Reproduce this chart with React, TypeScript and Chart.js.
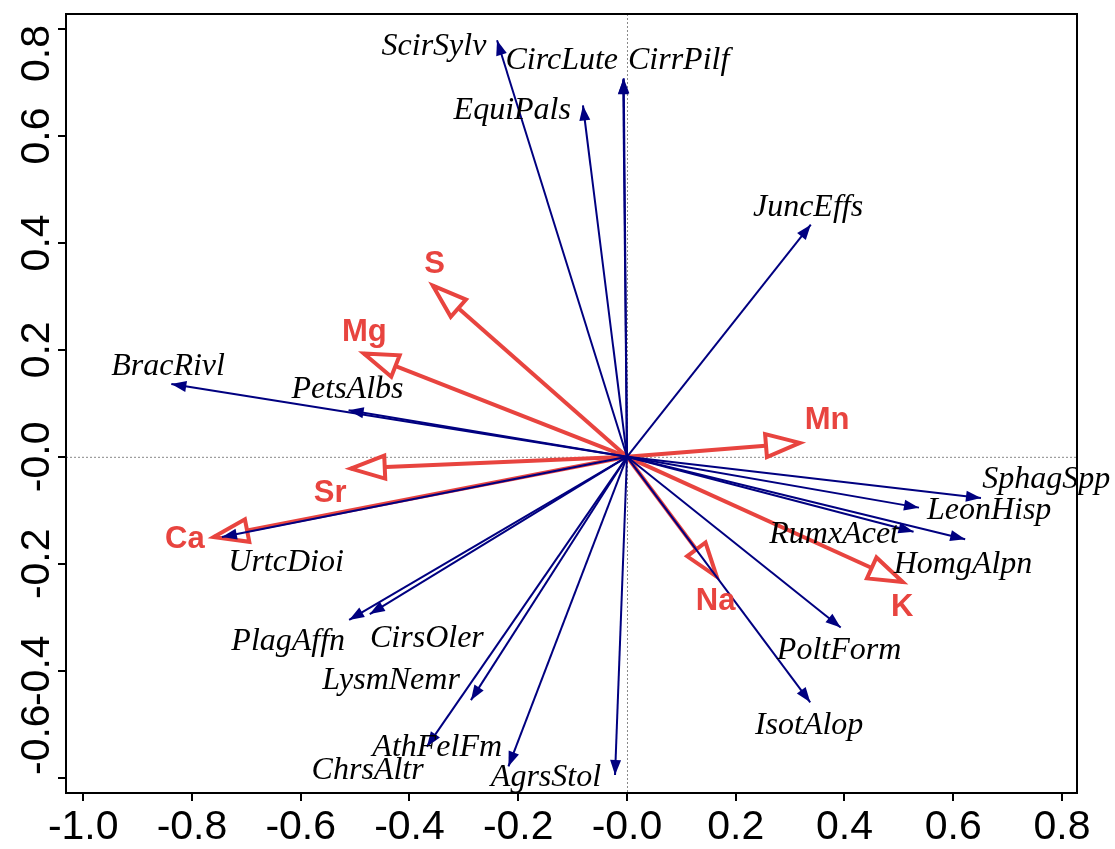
import React, { useEffect, useRef } from "react";
import { Chart, registerables } from "chart.js";

Chart.register(...registerables);

// Species scores (navy arrows)
const speciesNames = [
  "ScirSylv", "CircLute", "CirrPilf", "EquiPals", "JuncEffs", "BracRivl", "PetsAlbs",
  "SphagSpp", "LeonHisp", "RumxAcet", "HomgAlpn", "PoltForm", "IsotAlop", "UrtcDioi",
  "PlagAffn", "CirsOler", "LysmNemr", "ChrsAltr", "AthFelFm", "AgrsStol",
];
const speciesX = [
  -0.239, -0.007, -0.006, -0.081, 0.338, -0.838, -0.512,
  0.651, 0.537, 0.527, 0.622, 0.393, 0.337, -0.745,
  -0.511, -0.473, -0.287, -0.368, -0.218, -0.022,
];
const speciesY = [
  0.779, 0.706, 0.708, 0.657, 0.434, 0.136, 0.087,
  -0.077, -0.095, -0.14, -0.154, -0.319, -0.459, -0.15,
  -0.305, -0.294, -0.455, -0.542, -0.579, -0.595,
];
// Label anchors (centre of the text) in data units
const speciesLabelX = [
  -0.355, -0.12, 0.095, -0.211, 0.333, -0.844, -0.514,
  0.771, 0.666, 0.381, 0.618, 0.39, 0.335, -0.627,
  -0.623, -0.368, -0.434, -0.477, -0.349, -0.149,
];
const speciesLabelY = [
  0.771, 0.745, 0.745, 0.652, 0.47, 0.173, 0.13,
  -0.038, -0.096, -0.141, -0.197, -0.358, -0.498, -0.193,
  -0.342, -0.336, -0.414, -0.582, -0.539, -0.595,
];

// Environmental vectors (red arrows)
const envNames = ["S", "Mg", "Mn", "Sr", "Ca", "Na", "K"];
const envX = [-0.357, -0.484, 0.318, -0.508, -0.76, 0.165, 0.507];
const envY = [0.32, 0.193, 0.026, -0.022, -0.15, -0.224, -0.234];
const envLabelX = [-0.354, -0.483, 0.368, -0.546, -0.813, 0.163, 0.506];
const envLabelY = [0.364, 0.237, 0.072, -0.064, -0.15, -0.266, -0.276];

const xTickValues = [-1.0, -0.8, -0.6, -0.4, -0.2, 0, 0.2, 0.4, 0.6, 0.8];
const xTickLabels = ["-1.0", "-0.8", "-0.6", "-0.4", "-0.2", "-0.0", "0.2", "0.4", "0.6", "0.8"];
const yTickValues = [-0.6, -0.4, -0.2, 0, 0.2, 0.4, 0.6, 0.8];
const yTickLabels = ["-0.6", "-0.4", "-0.2", "-0.0", "0.2", "0.4", "0.6", "0.8"];

const X_MIN = -1.0317;
const X_MAX = 0.8276;
const Y_MIN = -0.6286;
const Y_MAX = 0.828;

const NAVY = "#000080";
const RED = "#E8443F";
const SANS = "'Liberation Sans', Arial, sans-serif";
const SERIF = "'Liberation Serif', 'Times New Roman', serif";

function labelFor(values: number[], labels: string[], v: number) {
  const i = values.findIndex((t) => Math.abs(t - v) < 1e-9);
  return i >= 0 ? labels[i] : "";
}

const biplotPlugin = {
  id: "biplot",
  beforeDatasetsDraw(chart: any) {
    const { ctx, chartArea: a, scales } = chart;
    const x0 = scales.x.getPixelForValue(0);
    const y0 = scales.y.getPixelForValue(0);
    ctx.save();
    ctx.strokeStyle = "#888";
    ctx.lineWidth = 1;
    ctx.setLineDash([2, 2]);
    ctx.beginPath();
    ctx.moveTo(a.left, y0 + 0.5);
    ctx.lineTo(a.right, y0 + 0.5);
    ctx.moveTo(x0 + 0.5, a.top);
    ctx.lineTo(x0 + 0.5, a.bottom);
    ctx.stroke();
    ctx.restore();
  },
  afterDatasetDraw(chart: any, args: any) {
    const ds = chart.data.datasets[args.index];
    const pts = args.meta.data;
    if (!pts || pts.length < 2) return;
    const p0 = pts[0];
    const p1 = pts[1];
    const dx = p1.x - p0.x;
    const dy = p1.y - p0.y;
    const len = Math.hypot(dx, dy) || 1;
    const ux = dx / len;
    const uy = dy / len;
    const nx = -uy;
    const ny = ux;
    const ctx = chart.ctx;
    ctx.save();
    if (ds.kind === "species") {
      const L = 15;
      const W = 5.5;
      ctx.fillStyle = NAVY;
      ctx.beginPath();
      ctx.moveTo(p1.x, p1.y);
      ctx.lineTo(p1.x - ux * L + nx * W, p1.y - uy * L + ny * W);
      ctx.lineTo(p1.x - ux * L - nx * W, p1.y - uy * L - ny * W);
      ctx.closePath();
      ctx.fill();
    } else {
      const L = 34;
      const W = 11.5;
      ctx.fillStyle = "#fff";
      ctx.strokeStyle = RED;
      ctx.lineWidth = 4;
      ctx.lineJoin = "miter";
      ctx.beginPath();
      ctx.moveTo(p1.x, p1.y);
      ctx.lineTo(p1.x - ux * L + nx * W, p1.y - uy * L + ny * W);
      ctx.lineTo(p1.x - ux * L - nx * W, p1.y - uy * L - ny * W);
      ctx.closePath();
      ctx.fill();
      ctx.stroke();
    }
    ctx.restore();
  },
  afterDatasetsDraw(chart: any) {
    const { ctx, scales } = chart;
    ctx.save();
    ctx.textAlign = "center";
    ctx.textBaseline = "alphabetic";
    ctx.fillStyle = RED;
    const es = 31;
    ctx.font = `bold ${es}px ${SANS}`;
    envNames.forEach((n, i) => {
      const px = scales.x.getPixelForValue(envLabelX[i]);
      const py = scales.y.getPixelForValue(envLabelY[i]);
      ctx.fillText(n, px, py + es * 0.716 / 2);
    });
    ctx.fillStyle = "#000";
    const ss = 32;
    ctx.font = `italic ${ss}px ${SERIF}`;
    speciesNames.forEach((n, i) => {
      const px = scales.x.getPixelForValue(speciesLabelX[i]);
      const py = scales.y.getPixelForValue(speciesLabelY[i]);
      ctx.fillText(n, px, py + ss * 0.662 / 2);
    });
    ctx.restore();
  },
  afterDraw(chart: any) {
    const { ctx, chartArea: a, scales } = chart;
    ctx.save();
    ctx.strokeStyle = "#000";
    ctx.lineWidth = 2;
    ctx.strokeRect(a.left, a.top, a.right - a.left, a.bottom - a.top);
    // rotated y tick labels
    const fs = 41;
    ctx.font = `${fs}px ${SANS}`;
    ctx.fillStyle = "#000";
    ctx.textAlign = "center";
    ctx.textBaseline = "alphabetic";
    yTickValues.forEach((v, i) => {
      const label = yTickLabels[i];
      const w = ctx.measureText(label).width;
      let c = scales.y.getPixelForValue(v);
      const lo = a.top + 11 + w / 2;
      const hi = a.bottom - 18 - w / 2;
      c = Math.min(Math.max(c, lo), hi);
      ctx.save();
      ctx.translate(49, c);
      ctx.rotate(-Math.PI / 2);
      ctx.fillText(label, 0, 0);
      ctx.restore();
    });
    ctx.restore();
  },
};

export default function App() {
  const ref = useRef<HTMLCanvasElement | null>(null);

  useEffect(() => {
    if (!ref.current) return;
    const speciesSets = speciesNames.map((n, i) => ({
      label: n,
      kind: "species",
      data: [
        { x: 0, y: 0 },
        { x: speciesX[i], y: speciesY[i] },
      ],
      showLine: true,
      borderColor: NAVY,
      borderWidth: 2,
      pointRadius: 0,
      fill: false,
    }));
    const envSets = envNames.map((n, i) => ({
      label: n,
      kind: "env",
      data: [
        { x: 0, y: 0 },
        { x: envX[i], y: envY[i] },
      ],
      showLine: true,
      borderColor: RED,
      borderWidth: 4,
      pointRadius: 0,
      fill: false,
    }));

    const chart = new Chart(ref.current, {
      type: "scatter",
      data: { datasets: [...speciesSets, ...envSets] as any },
      options: {
        responsive: false,
        animation: false,
        events: [],
        layout: { padding: { top: 14, right: 38, left: 0, bottom: 0 } },
        plugins: {
          legend: { display: false },
          tooltip: { enabled: false },
        },
        scales: {
          x: {
            type: "linear",
            min: X_MIN,
            max: X_MAX,
            afterBuildTicks: (s: any) => {
              s.ticks = xTickValues.map((v) => ({ value: v }));
            },
            afterFit: (s: any) => {
              s.height = 56;
            },
            ticks: {
              autoSkip: false,
              maxRotation: 0,
              padding: 2,
              color: "#000",
              font: { family: SANS, size: 41 },
              callback: (v: any) => labelFor(xTickValues, xTickLabels, Number(v)),
            },
            grid: { drawOnChartArea: false, tickLength: 8, color: "#000", lineWidth: 2 },
            border: { color: "#000", width: 2 },
          },
          y: {
            type: "linear",
            min: Y_MIN,
            max: Y_MAX,
            afterBuildTicks: (s: any) => {
              s.ticks = yTickValues.map((v) => ({ value: v }));
            },
            afterFit: (s: any) => {
              s.width = 66;
            },
            ticks: {
              autoSkip: false,
              color: "rgba(0,0,0,0)",
              font: { family: SANS, size: 12 },
              callback: (v: any) => labelFor(yTickValues, yTickLabels, Number(v)),
            },
            grid: { drawOnChartArea: false, tickLength: 8, color: "#000", lineWidth: 2 },
            border: { color: "#000", width: 2 },
          },
        },
      } as any,
      plugins: [biplotPlugin],
    });
    return () => chart.destroy();
  }, []);

  return (
    <div style={{ position: "absolute", left: 0, top: 0, width: 1115, height: 849, background: "#fff" }}>
      <canvas ref={ref} width={1115} height={849} style={{ display: "block" }} />
    </div>
  );
}
